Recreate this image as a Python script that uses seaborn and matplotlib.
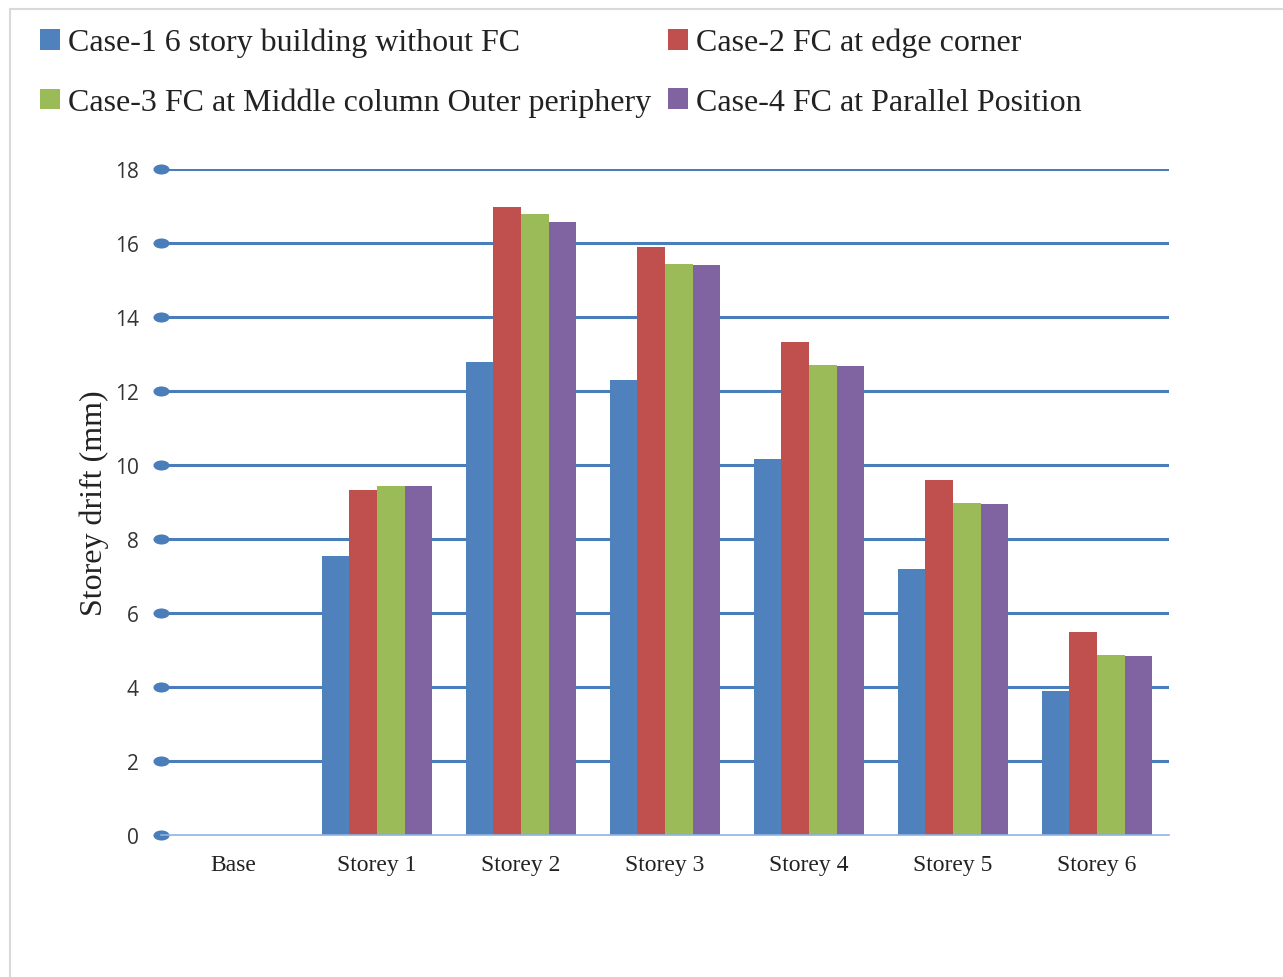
import numpy as np
import pandas as pd
import matplotlib
matplotlib.use("Agg")
import matplotlib.pyplot as plt
import seaborn as sns
from matplotlib.path import Path
from matplotlib.patches import Rectangle, Patch
from matplotlib.transforms import Affine2D

# Storey drift (mm) per storey for the four frame configurations
storeys = ["Base", "Storey 1", "Storey 2", "Storey 3", "Storey 4", "Storey 5", "Storey 6"]
cases = [
    "Case-1 6 story building without FC",
    "Case-2 FC at edge corner",
    "Case-3 FC at Middle column Outer periphery",
    "Case-4 FC at Parallel Position",
]
case1 = [0, 7.54, 12.78, 12.30, 10.16, 7.19, 3.89]
case2 = [0, 9.32, 16.97, 15.89, 13.32, 9.59, 5.49]
case3 = [0, 9.43, 16.78, 15.43, 12.70, 8.97, 4.86]
case4 = [0, 9.43, 16.57, 15.41, 12.68, 8.95, 4.84]
y_ticks = [0, 2, 4, 6, 8, 10, 12, 14, 16, 18]

colors = ["#4F81BD", "#C0504D", "#9BBB59", "#8064A2"]
grid_blue = "#4A7EBB"
axis_blue = "#8EB4E3"

df = pd.DataFrame({
    "storey": storeys * 4,
    "case": np.repeat(cases, len(storeys)),
    "drift": case1 + case2 + case3 + case4,
})

sns.set_theme(style="white")
plt.rcParams["font.family"] = ["Liberation Serif", "DejaVu Serif"]

W, H = 1283, 978
fig = plt.figure(figsize=(W / 100, H / 100), dpi=100)
ax = fig.add_axes([161 / W, 1 - 836 / H, 1008 / W, 666 / H])

sns.barplot(data=df, x="storey", y="drift", hue="case", hue_order=cases,
            order=storeys, palette=colors, width=0.764, saturation=1,
            errorbar=None, legend=False, edgecolor="none", ax=ax, zorder=3)

ax.set_xlim(-0.5, len(storeys) - 0.5)
ax.set_ylim(0, 18)
ax.set_yticks(y_ticks)
ax.set_yticklabels([str(v) for v in y_ticks], family="Open Sans", fontsize=15,
                   color="#333333")
ax.set_xlabel("")
ax.set_ylabel("Storey drift (mm)", fontsize=23, color="#222222", labelpad=4)

# horizontal gridlines with elliptical end caps
for v in y_ticks[1:]:
    ax.axhline(v, color=grid_blue, lw=2.2, zorder=1)
ellipse = Path.unit_circle().transformed(Affine2D().scale(1.6, 1.0))
ax.scatter([-0.5] * len(y_ticks), y_ticks, marker=ellipse, s=135,
           color=grid_blue, clip_on=False, zorder=4, linewidths=0)

for s in ["left", "top", "right"]:
    ax.spines[s].set_visible(False)
ax.spines["bottom"].set_color(axis_blue)
ax.spines["bottom"].set_linewidth(1.2)
ax.spines["bottom"].set_zorder(5)

ax.tick_params(axis="y", length=0, pad=16)
ax.tick_params(axis="x", which="major", length=0, pad=14, labelsize=17,
               labelcolor="#222222")
ax.set_xticks(np.arange(-0.5, len(storeys), 1.0), minor=True)
ax.tick_params(axis="x", which="minor", length=7, width=1.2, color=axis_blue,
               direction="out")

# legend in two columns above the plot
handles = [Patch(facecolor=c, edgecolor="none") for c in colors]
order = [0, 2, 1, 3]
fig.legend([handles[i] for i in order], [cases[i] for i in order], ncol=2,
           loc="upper left", bbox_to_anchor=(40 / W, 1 - 29 / H),
           frameon=False, fontsize=23, handlelength=0.62, handleheight=0.62,
           handletextpad=0.25, columnspacing=0.55, labelspacing=0.95,
           borderpad=0, borderaxespad=0, labelcolor="#222222")

# light chart frame
fig.patches.append(Rectangle((10 / W, -0.1), 2, 1.1 - 10 / H, transform=fig.transFigure,
                             fill=False, edgecolor="#D9D9D9", lw=1.5))

fig.savefig("out.png", dpi=100, facecolor="white")
